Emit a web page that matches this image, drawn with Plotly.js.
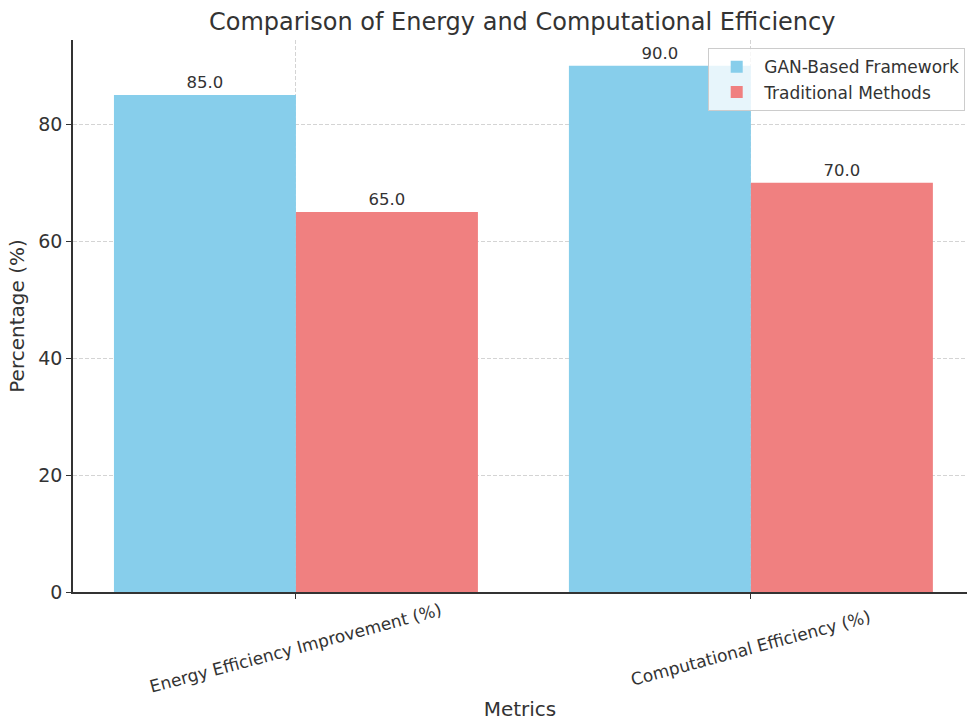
<!DOCTYPE html>
<html>
<head>
<meta charset="utf-8">
<script src="https://cdn.plot.ly/plotly-3.0.1.min.js"></script>
<style>html,body{margin:0;padding:0;background:#fff;}#chart{width:967px;height:721px;}</style>
</head>
<body>
<div id="chart"></div>
<script>
const categories = ["Energy Efficiency Improvement (%)", "Computational Efficiency (%)"];
const seriesNames = ["GAN-Based Framework", "Traditional Methods"];
const ganValues = [85.0, 90.0];
const traditionalValues = [65.0, 70.0];
const yTicks = [0, 20, 40, 60, 80];

const font = "DejaVu Sans, sans-serif";
const textColor = "#333333";

const traces = [
  {
    type: "bar", name: seriesNames[0], x: categories, y: ganValues,
    marker: {color: "#87CEEB"},
    text: ganValues.map(v => v.toFixed(1)), textposition: "outside",
    textfont: {family: font, size: 16.5, color: textColor},
    cliponaxis: false
  },
  {
    type: "bar", name: seriesNames[1], x: categories, y: traditionalValues,
    marker: {color: "#F08080"},
    text: traditionalValues.map(v => v.toFixed(1)), textposition: "outside",
    textfont: {family: font, size: 16.5, color: textColor},
    cliponaxis: false
  }
];

const annotations = categories.map(c => ({
  x: c, xref: "x", y: -0.102, yref: "paper", yanchor: "middle", xanchor: "center",
  text: c, showarrow: false, textangle: -15,
  font: {family: font, size: 17, color: textColor}
}));

const layout = {
  width: 967, height: 721,
  margin: {l: 73, r: 0, t: 40, b: 129},
  paper_bgcolor: "#fff", plot_bgcolor: "#fff",
  font: {family: font, color: textColor},
  title: {text: "Comparison of Energy and Computational Efficiency", x: 0.54, xanchor: "center", y: 0.97, yanchor: "middle",
          font: {family: font, size: 24, color: textColor}},
  barmode: "group", bargap: 0.2, bargroupgap: 0,
  xaxis: {
    type: "category", range: [-0.49, 1.475],
    showticklabels: false,
    ticks: "outside", ticklen: 5, tickcolor: "#333",
    showline: true, linecolor: "#333", linewidth: 1.5,
    showgrid: true, gridcolor: "#d4d4d4", griddash: "4px,2px", gridwidth: 0.8,
    zeroline: false,
    title: {text: "Metrics", font: {family: font, size: 20, color: textColor}, standoff: 105}
  },
  yaxis: {
    range: [0, 94.4], tickvals: yTicks,
    ticks: "outside", ticklen: 5, tickcolor: "#333",
    tickfont: {family: font, size: 19, color: textColor},
    showline: true, linecolor: "#333", linewidth: 1.5,
    showgrid: true, gridcolor: "#d4d4d4", griddash: "4px,2px", gridwidth: 0.8,
    zeroline: false,
    title: {text: "Percentage (%)", font: {family: font, size: 20, color: textColor}, standoff: 8}
  },
  legend: {
    x: 0.998, xanchor: "right", y: 0.985, yanchor: "top",
    bgcolor: "rgba(255,255,255,0.8)", bordercolor: "#cccccc", borderwidth: 1,
    itemwidth: 45,
    font: {family: font, size: 17, color: textColor}
  },
  annotations: annotations,
  showlegend: true
};

Plotly.newPlot("chart", traces, layout, {displayModeBar: false});
</script>
</body>
</html>
